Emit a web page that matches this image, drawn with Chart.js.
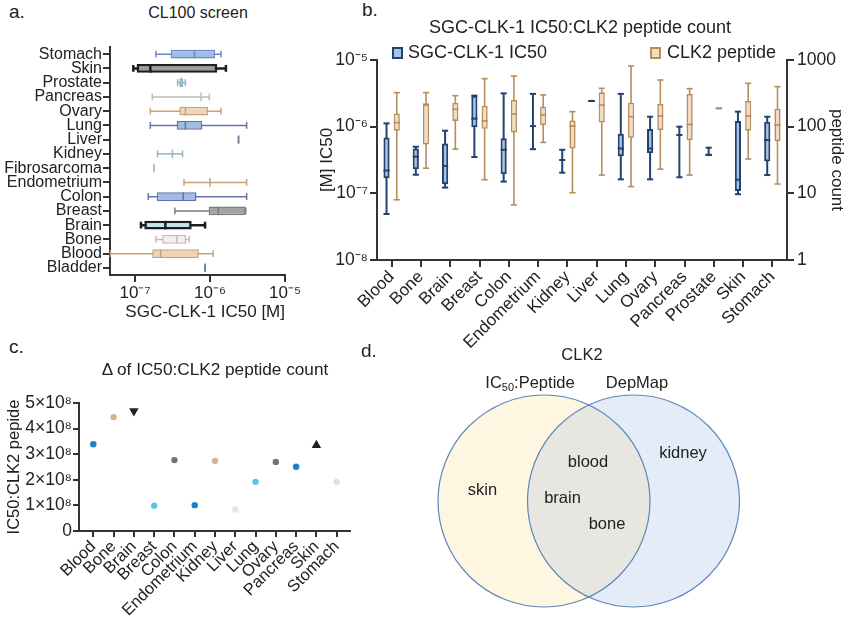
<!DOCTYPE html>
<html>
<head>
<meta charset="utf-8">
<script src="https://cdn.jsdelivr.net/npm/chart.js@4.4.0/dist/chart.umd.min.js"></script>
<style>
  body { margin: 0; background: #fff; width: 850px; height: 628px; overflow: hidden; position: relative;
         font-family: "Liberation Sans", Arial, sans-serif; color: #222; }
  .panel { position: absolute; }
  .txt { position: absolute; white-space: nowrap; line-height: 1; }
  .sq { position: absolute; box-sizing: border-box; border-width: 2px; border-style: solid; }
</style>
</head>
<body>
<div class="panel" style="left:0;top:30px;width:310px;height:300px"><canvas id="chartA"></canvas></div>
<div class="panel" style="left:420px;top:320px;width:430px;height:308px"><canvas id="chartD"></canvas></div>
<div class="panel" style="left:300px;top:30px;width:550px;height:330px"><canvas id="chartB"></canvas></div>
<div class="panel" style="left:0;top:380px;width:400px;height:248px"><canvas id="chartC"></canvas></div>

<script>
// ---- panel a: CL100 screen (IC50 per tissue) ----
const tissuesA = ['Bladder', 'Blood', 'Bone', 'Brain', 'Breast', 'Colon', 'Endometrium', 'Fibrosarcoma',
  'Kidney', 'Liver', 'Lung', 'Ovary', 'Pancreas', 'Prostate', 'Skin', 'Stomach'];
const minA = [8.6e-7, 4.7e-8, 1.9e-7, 1.2e-7, 3.4e-7, 1.5e-7, 4.5e-7, 1.8e-7, 2.0e-7, 2.4e-6, 1.6e-7, 1.6e-7, 1.7e-7, 3.7e-7, 9.5e-8, 1.9e-7];
const q1A  = [8.6e-7, 1.7e-7, 2.3e-7, 1.33e-7, 9.6e-7, 1.95e-7, 1.0e-6, 1.8e-7, 3.15e-7, 2.4e-6, 3.6e-7, 3.9e-7, 7.6e-7, 3.9e-7, 1.05e-7, 3.0e-7];
const medA = [8.6e-7, 2.2e-7, 3.6e-7, 2.54e-7, 1.29e-6, 4.4e-7, 1.0e-6, 1.8e-7, 3.15e-7, 2.4e-6, 4.7e-7, 4.7e-7, 7.6e-7, 4.1e-7, 1.6e-7, 6.2e-7];
const q3A  = [8.6e-7, 7.1e-7, 4.8e-7, 5.7e-7, 2.99e-6, 6.6e-7, 1.0e-6, 1.8e-7, 3.15e-7, 2.4e-6, 7.9e-7, 9.4e-7, 7.6e-7, 4.4e-7, 1.25e-6, 1.17e-6];
const maxA = [8.6e-7, 1.1e-6, 5.3e-7, 8.6e-7, 2.99e-6, 3.08e-6, 3.08e-6, 1.8e-7, 4.3e-7, 2.4e-6, 3.08e-6, 1.4e-6, 9.8e-7, 4.7e-7, 1.63e-6, 1.4e-6];

// ---- panel b: IC50 vs CLK2 peptide count ----
const tissuesB = ['Blood', 'Bone', 'Brain', 'Breast', 'Colon', 'Endometrium', 'Kidney', 'Liver', 'Lung',
  'Ovary', 'Pancreas', 'Prostate', 'Skin', 'Stomach'];
const icMin = [4.9e-8, 1.9e-7, 1.22e-7, 3.5e-7, 1.5e-7, 4.6e-7, 2.04e-7, 2.43e-6, 1.62e-7, 1.62e-7, 1.74e-7, 3.75e-7, 9.7e-8, 1.88e-7];
const icQ1  = [1.68e-7, 2.3e-7, 1.37e-7, 9.8e-7, 1.93e-7, 1.02e-6, 3.16e-7, 2.43e-6, 3.6e-7, 4.0e-7, 7.5e-7, 3.75e-7, 1.08e-7, 3.0e-7];
const icMed = [2.2e-7, 3.55e-7, 2.57e-7, 1.32e-6, 4.5e-7, 1.02e-6, 3.16e-7, 2.43e-6, 4.7e-7, 4.7e-7, 7.5e-7, 3.8e-7, 1.6e-7, 6.3e-7];
const icQ3  = [6.9e-7, 4.7e-7, 5.6e-7, 2.92e-6, 6.7e-7, 1.02e-6, 3.16e-7, 2.43e-6, 7.8e-7, 9.2e-7, 7.5e-7, 3.9e-7, 1.22e-6, 1.19e-6];
const icMax = [1.12e-6, 5.0e-7, 8.7e-7, 2.92e-6, 3.16e-6, 3.1e-6, 4.5e-7, 2.43e-6, 3.1e-6, 1.41e-6, 1.0e-6, 4.84e-7, 1.68e-6, 1.41e-6];
const pepMin = [8, 23.8, 46, 16, 6.7, 58, 10.2, 18.8, 12.6, 23, 18.8, 188, 32.7, 13.8];
const pepQ1  = [87, 54, 122, 93, 82, 106, 47, 115, 68, 89, 63, 188, 87, 61];
const pepMed = [115, 211, 182, 122, 155, 150, 102, 211, 141, 145, 108, 188, 145, 106];
const pepQ3  = [158, 224, 229, 206, 251, 200, 124, 327, 229, 219, 309, 188, 243, 186];
const pepMax = [324, 324, 292, 525, 575, 299, 168, 376, 813, 501, 372, 188, 447, 398];

// ---- panel c: delta of IC50:CLK2 peptide count ----
const tissuesC = ['Blood', 'Bone', 'Brain', 'Breast', 'Colon', 'Endometrium', 'Kidney', 'Liver', 'Lung',
  'Ovary', 'Pancreas', 'Skin', 'Stomach'];
const deltaC = [3.39e8, 4.45e8, 4.69e8, 0.99e8, 2.77e8, 1.01e8, 2.74e8, 0.84e8, 1.92e8, 2.70e8, 2.51e8, 3.35e8, 1.92e8];

// ---- panel d: CLK2 venn ----
const vennSets = ['IC50:Peptide', 'DepMap'];
const onlyLeft = ['skin'];
const shared = ['blood', 'brain', 'bone'];
const onlyRight = ['kidney'];

// styles
const fillA = ['#7282b4', '#efd5b6', '#f3efeb', '#bfe6ec', '#a3a3a3', '#9fbde5', '#c9a27c', '#b9b9b9',
  '#8fb6c6', '#7b88aa', '#9fbde5', '#efd5b6', '#bdbdbd', '#c6dbe3', '#9e9e9e', '#9fbde5'];
const lineA = ['#7282b4', '#c9a27c', '#c7bdb6', '#1e1e1e', '#7d7d7d', '#6474aa', '#c9a27c', '#b9b9b9',
  '#8fb6c6', '#7b88aa', '#6474aa', '#c9a27c', '#bdbdbd', '#8fb3c2', '#1e1e1e', '#6c88c2'];
const widthA = tissuesA.map(t => (t === 'Skin' || t === 'Brain') ? 2.5 : 1.5);
const colorC = ['#1f80c6', '#d8b48c', '#222222', '#5cc5e0', '#6d757c', '#1f80c6', '#d8b48c', '#ebe4e0',
  '#5cc5e0', '#6d757c', '#1f80c6', '#222222', '#e6ddd6'];
const markC = ['circle', 'circle', 'down', 'circle', 'circle', 'circle', 'circle', 'circle', 'circle',
  'circle', 'circle', 'up', 'circle'];

Chart.defaults.font.family = "'Liberation Sans', Arial, sans-serif";
Chart.defaults.color = '#222';
Chart.defaults.animation = false;
Chart.defaults.events = [];
Chart.defaults.layout.autoPadding = false;
Chart.defaults.plugins.legend.display = false;
Chart.defaults.plugins.tooltip.enabled = false;

const AXIS = '#333';
const SUP = { '-': '⁻', '0': '⁰', '1': '¹', '2': '²', '3': '³', '4': '⁴', '5': '⁵', '6': '⁶', '7': '⁷', '8': '⁸', '9': '⁹' };
const pow10 = v => '10' + String(Math.round(Math.log10(v))).split('').map(c => SUP[c]).join('');
const fixTicks = vals => scale => { scale.ticks = vals.map(v => ({ value: v })); };

function axisGrid(extra) {
  return Object.assign({ display: true, drawOnChartArea: false, drawTicks: true, tickLength: 7, color: AXIS, lineWidth: 2 }, extra);
}
const axisBorder = { display: true, color: AXIS, width: 2 };

// whiskers behind boxes, medians on top
function eachBox(chart, fn) {
  const horiz = chart.options.indexAxis === 'y';
  chart.data.datasets.forEach((ds, di) => {
    if (!ds.stats) return;
    const meta = chart.getDatasetMeta(di);
    const vScale = chart.scales[meta.vAxisID];
    meta.data.forEach((el, i) => {
      const p = el.getProps(['x', 'y', 'width', 'height'], true);
      const pick = o => Array.isArray(o) ? o[i] : o;
      fn(chart.ctx, {
        horiz,
        center: horiz ? p.y : p.x,
        half: (horiz ? p.height : p.width) / 2,
        color: pick(ds.borderColor),
        lw: pick(ds.borderWidth),
        px: v => vScale.getPixelForValue(v),
        s: ds.stats, i, cap: ds.capScale || 1
      });
    });
  });
}
function line(ctx, horiz, v1, v2, c) { // along value axis
  ctx.beginPath();
  if (horiz) { ctx.moveTo(v1, c); ctx.lineTo(v2, c); } else { ctx.moveTo(c, v1); ctx.lineTo(c, v2); }
  ctx.stroke();
}
function cross(ctx, horiz, v, c, h) { // across value axis
  ctx.beginPath();
  if (horiz) { ctx.moveTo(v, c - h); ctx.lineTo(v, c + h); } else { ctx.moveTo(c - h, v); ctx.lineTo(c + h, v); }
  ctx.stroke();
}
const boxWhiskers = {
  id: 'boxWhiskers',
  beforeDatasetsDraw(chart) {
    eachBox(chart, (ctx, b) => {
      ctx.save();
      ctx.strokeStyle = b.color; ctx.lineWidth = b.lw;
      const lo = b.px(b.s.min[b.i]), hi = b.px(b.s.max[b.i]);
      line(ctx, b.horiz, lo, hi, b.center);
      cross(ctx, b.horiz, lo, b.center, b.half * b.cap);
      cross(ctx, b.horiz, hi, b.center, b.half * b.cap);
      ctx.restore();
    });
  },
  afterDatasetsDraw(chart) {
    eachBox(chart, (ctx, b) => {
      ctx.save();
      ctx.strokeStyle = b.color; ctx.lineWidth = b.lw;
      cross(ctx, b.horiz, b.px(b.s.med[b.i]), b.center, b.half);
      ctx.restore();
    });
  }
};

// ---------- chart a ----------
new Chart(document.getElementById('chartA'), {
  type: 'bar',
  data: {
    labels: tissuesA,
    datasets: [{
      data: tissuesA.map((_, i) => [q1A[i], q3A[i]]),
      stats: { min: minA, med: medA, max: maxA },
      backgroundColor: fillA,
      borderColor: lineA,
      borderWidth: widthA,
      borderSkipped: false,
      categoryPercentage: 1,
      barPercentage: 0.6,
      capScale: 0.8
    }]
  },
  options: {
    indexAxis: 'y',
    responsive: true,
    maintainAspectRatio: false,
    layout: { padding: { top: 17, right: 25, left: 0, bottom: 0 } },
    scales: {
      x: {
        type: 'logarithmic',
        min: Math.pow(10, -7 - 1 / 3),
        max: 1e-5,
        afterBuildTicks: fixTicks([1e-7, 1e-6, 1e-5]),
        afterFit: s => { s.height = 55; },
        border: axisBorder,
        grid: axisGrid(),
        ticks: { font: { size: 17 }, padding: 1, callback: v => pow10(v) },
        title: { display: true, text: 'SGC-CLK-1 IC50 [M]', align: 'end', font: { size: 17 }, padding: { top: 0, bottom: 7 } }
      },
      y: {
        type: 'category',
        reverse: true,
        offset: true,
        afterFit: s => { s.width = 110; },
        border: axisBorder,
        grid: axisGrid({ offset: false }),
        ticks: { font: { size: 16 }, padding: 1, autoSkip: false }
      }
    }
  },
  plugins: [boxWhiskers]
});

// ---------- chart b ----------
new Chart(document.getElementById('chartB'), {
  type: 'bar',
  data: {
    labels: tissuesB,
    datasets: [{
      label: 'SGC-CLK-1 IC50',
      yAxisID: 'y',
      data: tissuesB.map((_, i) => [icQ1[i], icQ3[i]]),
      stats: { min: icMin, med: icMed, max: icMax },
      backgroundColor: '#a9c4e6',
      borderColor: '#23426e',
      borderWidth: 2,
      borderSkipped: false,
      categoryPercentage: 0.7,
      barPercentage: 0.6
    }, {
      label: 'CLK2 peptide',
      yAxisID: 'y2',
      data: tissuesB.map((_, i) => [pepQ1[i], pepQ3[i]]),
      stats: { min: pepMin, med: pepMed, max: pepMax },
      backgroundColor: '#f1dcc3',
      borderColor: '#b58d5f',
      borderWidth: 1.6,
      borderSkipped: false,
      categoryPercentage: 0.7,
      barPercentage: 0.6
    }]
  },
  options: {
    responsive: true,
    maintainAspectRatio: false,
    layout: { padding: { top: 30, right: 0, left: 0, bottom: 0 } },
    scales: {
      x: {
        type: 'category',
        offset: true,
        afterFit: s => { s.height = 100; },
        border: axisBorder,
        grid: axisGrid({ offset: false }),
        ticks: { font: { size: 17 }, padding: 0, minRotation: 45, maxRotation: 45, autoSkip: false }
      },
      y: {
        type: 'logarithmic',
        position: 'left',
        min: 1e-8,
        max: 1e-5,
        afterBuildTicks: fixTicks([1e-8, 1e-7, 1e-6, 1e-5]),
        afterFit: s => { s.width = 77; },
        border: axisBorder,
        grid: axisGrid(),
        ticks: { font: { size: 17.5 }, padding: 2, callback: v => pow10(v) },
        title: { display: true, text: '[M] IC50', font: { size: 17 }, padding: { top: 17, bottom: 0 } }
      },
      y2: {
        type: 'logarithmic',
        position: 'right',
        min: 1,
        max: 1000,
        afterBuildTicks: fixTicks([1, 10, 100, 1000]),
        afterFit: s => { s.width = 63; },
        border: axisBorder,
        grid: axisGrid(),
        ticks: { font: { size: 17.5 }, padding: 3, callback: v => String(v) },
        title: { display: true, text: 'peptide count', font: { size: 17 }, padding: { top: 3, bottom: 0 } }
      }
    }
  },
  plugins: [boxWhiskers]
});

// ---------- chart c ----------
new Chart(document.getElementById('chartC'), {
  type: 'line',
  data: {
    datasets: [{
      data: deltaC.map((v, i) => ({ x: i, y: v })),
      showLine: false,
      pointStyle: markC.map(m => m === 'circle' ? 'circle' : 'triangle'),
      pointRotation: markC.map(m => m === 'down' ? 180 : 0),
      pointRadius: markC.map(m => m === 'circle' ? 3.2 : 5.5),
      pointBackgroundColor: colorC,
      pointBorderColor: colorC,
      pointBorderWidth: 0
    }]
  },
  options: {
    responsive: true,
    maintainAspectRatio: false,
    layout: { padding: { top: 23, right: 50, left: 0, bottom: 0 } },
    scales: {
      x: {
        type: 'linear',
        min: -0.705,
        max: 12.656,
        afterBuildTicks: fixTicks(tissuesC.map((_, i) => i)),
        afterFit: s => { s.height = 97; },
        border: axisBorder,
        grid: axisGrid({ tickLength: 6 }),
        ticks: { font: { size: 16.5 }, padding: 0, minRotation: 45, maxRotation: 45, autoSkip: false,
          callback: v => tissuesC[v] }
      },
      y: {
        min: 0,
        max: 5e8,
        afterBuildTicks: fixTicks([0, 1e8, 2e8, 3e8, 4e8, 5e8]),
        afterFit: s => { s.width = 79; },
        border: axisBorder,
        grid: axisGrid({ tickLength: 6 }),
        ticks: { font: { size: 17.5 }, padding: 1, callback: v => v === 0 ? '0' : (v / 1e8) + '×10⁸' },
        title: { display: true, text: 'IC50:CLK2 pepide', font: { size: 16.5 }, padding: { top: 5, bottom: 0 } }
      }
    }
  }
});

// ---------- chart d ----------
const vennLayout = { left: { x: 124, y: 181 }, right: { x: 213.5, y: 181 }, r: 106 };
const vennOverlap = {
  id: 'vennOverlap',
  afterDatasetsDraw(chart) {
    const ctx = chart.ctx;
    const a = chart.getDatasetMeta(0).data[0], b = chart.getDatasetMeta(1).data[0];
    const ra = a.options.radius, rb = b.options.radius;
    ctx.save();
    ctx.beginPath(); ctx.arc(a.x, a.y, ra, 0, Math.PI * 2); ctx.clip();
    ctx.beginPath(); ctx.arc(b.x, b.y, rb, 0, Math.PI * 2);
    ctx.fillStyle = '#e8e6e1'; ctx.fill();
    ctx.restore();
    ctx.save();
    ctx.strokeStyle = '#5f88b8'; ctx.lineWidth = 1.2;
    [[a, ra], [b, rb]].forEach(([p, r]) => { ctx.beginPath(); ctx.arc(p.x, p.y, r, 0, Math.PI * 2); ctx.stroke(); });
    ctx.restore();
  }
};
new Chart(document.getElementById('chartD'), {
  type: 'scatter',
  data: {
    datasets: [
      { label: vennSets[0], data: [vennLayout.left], pointRadius: vennLayout.r, pointBackgroundColor: '#fef6e1', pointBorderWidth: 0, clip: false },
      { label: vennSets[1], data: [vennLayout.right], pointRadius: vennLayout.r, pointBackgroundColor: '#e3ecf7', pointBorderWidth: 0, clip: false }
    ]
  },
  options: {
    responsive: true,
    maintainAspectRatio: false,
    layout: { padding: 0, autoPadding: false },
    scales: {
      x: { type: 'linear', min: 0, max: 430, display: false },
      y: { type: 'linear', min: 0, max: 308, reverse: true, display: false }
    }
  },
  plugins: [vennOverlap]
});

// ---------- text overlays ----------
function addText(html, x, baseline, size, align) {
  const d = document.createElement('div');
  d.className = 'txt';
  d.innerHTML = html;
  d.style.fontSize = size + 'px';
  d.style.top = (baseline - 0.8465 * size) + 'px';
  d.style.left = x + 'px';
  if (align === 'center') d.style.transform = 'translateX(-50%)';
  document.body.appendChild(d);
}
function addSquare(x, y, fill, border) {
  const d = document.createElement('div');
  d.className = 'sq';
  Object.assign(d.style, { left: x + 'px', top: y + 'px', width: '11px', height: '12px', background: fill, borderColor: border });
  document.body.appendChild(d);
}

addText('a.', 9, 18.5, 19);
addText('b.', 362, 16.5, 19);
addText('c.', 9, 353, 19);
addText('d.', 361, 357, 19);

addText('CL100 screen', 198, 19, 16, 'center');
addText('SGC-CLK-1 IC50:CLK2 peptide count', 580, 33, 18, 'center');
addText('Δ of IC50:CLK2 peptide count', 215, 376, 17.2, 'center');

addSquare(392, 46.5, '#a9c4e6', '#23426e');
addText('SGC-CLK-1 IC50', 408, 58.5, 18);
addSquare(650, 46.5, '#f1dcc3', '#b58d5f');
addText('CLK2 peptide', 667, 58.5, 18);

addText('CLK2', 582, 360, 16.5, 'center');
addText('IC<span style="font-size:11px;vertical-align:-3px">50</span>:Peptide', 530, 388, 16.5, 'center');
addText(vennSets[1], 637, 388, 16.5, 'center');
addText(onlyLeft[0], 482.5, 495, 16.5, 'center');
addText(shared[0], 588, 466.5, 16.5, 'center');
addText(shared[1], 562.5, 502.5, 16.5, 'center');
addText(shared[2], 607, 529, 16.5, 'center');
addText(onlyRight[0], 683, 458, 16.5, 'center');
</script>
</body>
</html>
